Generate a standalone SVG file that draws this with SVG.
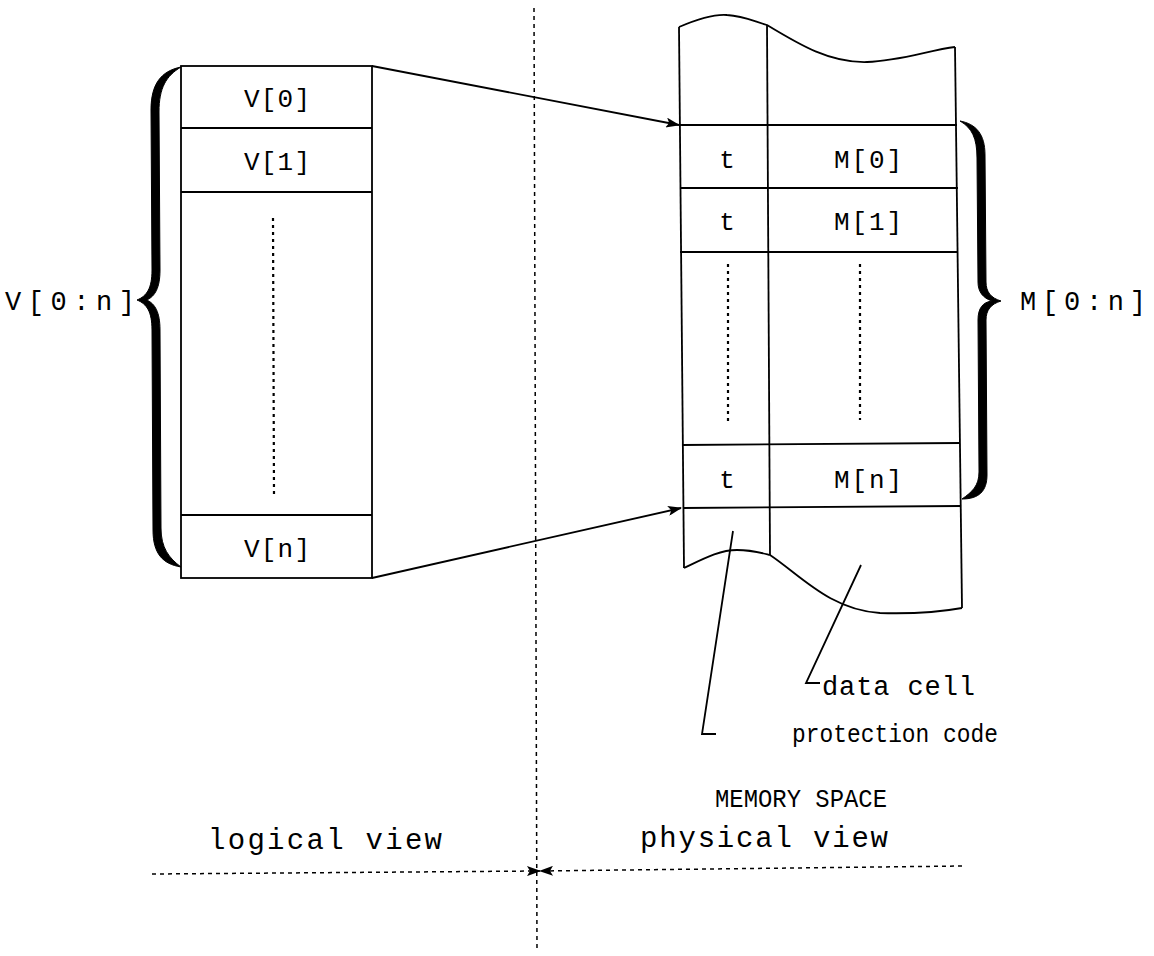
<svg xmlns="http://www.w3.org/2000/svg" width="1154" height="956" viewBox="0 0 1154 956">
<defs>
<style>
.ln{stroke:#000;stroke-width:1.8;fill:none}
.dot{stroke:#000;stroke-width:2.2;fill:none;stroke-dasharray:3 4}
.dash{stroke:#000;stroke-width:1.5;fill:none;stroke-dasharray:4 4}
.t{font-family:"Liberation Mono","Courier New",monospace;font-size:26px;fill:#000}
.brace{fill:#000;stroke:#000;stroke-width:1}
</style>
<marker id="ah" viewBox="0 0 14 10" refX="13" refY="5" markerWidth="15" markerHeight="10" markerUnits="userSpaceOnUse" orient="auto">
<path d="M0,0 L14,5 L0,10 L3,5 Z" fill="#000"/>
</marker>
</defs>
<rect width="1154" height="956" fill="#fff"/>

<g id="logical-vector">
<rect x="181" y="66" width="191" height="512" class="ln"/>
<line x1="181" y1="128" x2="372" y2="128" class="ln"/>
<line x1="181" y1="192" x2="372" y2="192" class="ln"/>
<line x1="181" y1="515" x2="372" y2="515" class="ln"/>
<line x1="273" y1="218" x2="274" y2="495" class="dot"/>
<text x="277" y="107" class="t" text-anchor="middle" textLength="66">V[0]</text>
<text x="277" y="170" class="t" text-anchor="middle" textLength="66">V[1]</text>
<text x="277" y="557" class="t" text-anchor="middle" textLength="66">V[n]</text>
</g>

<g id="brace-left">
<path class="brace" d="M181,67 C161,71 151,84 151,110 L152,270 C152,288 147,296 137,300 C147,304 152,312 152,330 L153,530 C153,554 163,564 181,567 C169,558 161,548 161,528 L160,330 C160,312 155,304 147,300 C155,296 160,288 160,270 L159,112 C159,88 166,76 181,67 Z"/>
<text x="5" y="310" class="t" style="font-size:27px" textLength="130" lengthAdjust="spacing">V[0:n]</text>
</g>

<g id="memory-space">
<path class="ln" d="M679,27 C700,18 715,14 727,15 C745,16 755,22 767,25 C800,45 830,63 867,62 C900,61 930,50 955,47"/>
<line x1="679" y1="27" x2="684" y2="568" class="ln"/>
<line x1="767" y1="25" x2="770" y2="555" class="ln"/>
<line x1="955" y1="47" x2="962" y2="608" class="ln"/>
<path class="ln" d="M684,568 C705,558 720,550 737,550 C752,550 762,553 770,555 C800,575 830,610 880,613 C915,614 940,612 962,608"/>
<line x1="679" y1="125" x2="957" y2="125" class="ln"/>
<line x1="680" y1="188" x2="958" y2="188" class="ln"/>
<line x1="680" y1="252" x2="958" y2="252" class="ln"/>
<line x1="682" y1="445" x2="960" y2="443" class="ln"/>
<line x1="683" y1="508" x2="961" y2="506" class="ln"/>
<line x1="728" y1="264" x2="728" y2="422" class="dot"/>
<line x1="860" y1="264" x2="860" y2="420" class="dot"/>
<text x="727" y="168" class="t" text-anchor="middle">t</text>
<text x="868" y="168" class="t" text-anchor="middle" textLength="68">M[0]</text>
<text x="727" y="230" class="t" text-anchor="middle">t</text>
<text x="868" y="230" class="t" text-anchor="middle" textLength="68">M[1]</text>
<text x="727" y="488" class="t" text-anchor="middle">t</text>
<text x="868" y="488" class="t" text-anchor="middle" textLength="68">M[n]</text>
<text x="715" y="807" class="t" textLength="172" lengthAdjust="spacingAndGlyphs" style="font-size:25px">MEMORY SPACE</text>
</g>

<g id="brace-right">
<path class="brace" d="M960,121 C976,124 985,134 985,155 L986,282 C986,292 991,298 1001,301 C991,304 986,310 986,320 L987,475 C987,491 979,499 962,499 C972,492 979,486 979,472 L978,320 C978,308 983,302 992,301 C983,298 978,292 978,282 L977,158 C977,138 972,128 960,121 Z"/>
<text x="1020" y="310" class="t" style="font-size:27px" textLength="126" lengthAdjust="spacing">M[0:n]</text>
</g>

<g id="labels">
<path class="ln" d="M733,531 L702,734 L716,734"/>
<path class="ln" d="M861,565 L806,683 L820,683"/>
<text x="822" y="695" class="t" style="font-size:27px" textLength="153" lengthAdjust="spacing">data cell</text>
<text x="792" y="742" class="t" style="font-size:26px" textLength="206" lengthAdjust="spacingAndGlyphs">protection code</text>
<text x="208" y="849" class="t" style="font-size:29px" textLength="234" lengthAdjust="spacing">logical view</text>
<text x="640" y="847" class="t" style="font-size:29px" textLength="248" lengthAdjust="spacing">physical view</text>
</g>

<g id="connectors">
<line x1="372" y1="66" x2="679" y2="125" class="ln" marker-end="url(#ah)"/>
<line x1="372" y1="578" x2="681" y2="508" class="ln" marker-end="url(#ah)"/>
<line x1="534" y1="8" x2="537" y2="950" class="dash"/>
<line x1="152" y1="874" x2="540" y2="871" class="dash" marker-end="url(#ah)"/>
<line x1="962" y1="866" x2="540" y2="871" class="dash" marker-end="url(#ah)"/>
</g>
</svg>
